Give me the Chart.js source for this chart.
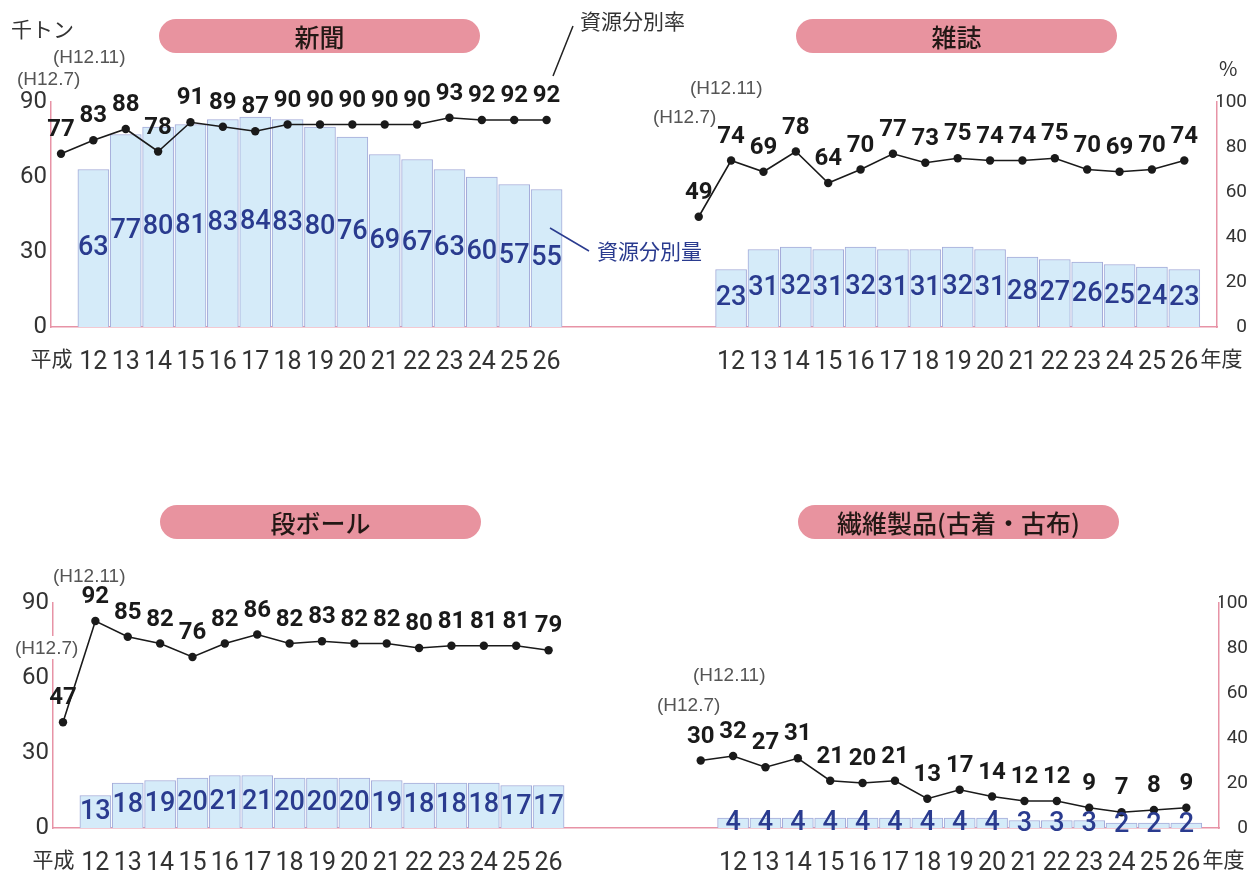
<!DOCTYPE html>
<html><head><meta charset="utf-8">
<script src="https://cdn.jsdelivr.net/npm/chart.js@4.4.0/dist/chart.umd.min.js"></script>
<style>
html,body{margin:0;padding:0;background:#fff;}
#wrap{position:relative;width:1256px;height:873px;overflow:hidden;font-family:'Noto Sans CJK JP',sans-serif;}
canvas{position:absolute;left:0;}
.pill{position:absolute;height:34px;border-radius:17px;background:#e8939f;color:#231815;font-size:25px;line-height:34px;text-align:center;font-weight:500;white-space:nowrap;}
.note{position:absolute;font-family:'Liberation Sans',sans-serif;font-size:19px;color:#555;white-space:nowrap;line-height:19px;}
.jp{position:absolute;white-space:nowrap;line-height:1;}
svg{position:absolute;left:0;top:0;}
</style></head><body>
<div id="wrap">
<canvas id="top" width="1256" height="380" style="top:0"></canvas>
<canvas id="bottom" width="1256" height="400" style="top:473px"></canvas>

<div class="pill" style="left:159px;top:19px;width:321px;">新聞</div>
<div class="pill" style="left:796px;top:19px;width:321px;">雑誌</div>
<div class="pill" style="left:160px;top:505px;width:321px;">段ボール</div>
<div class="pill" style="left:798px;top:505px;width:321px;">繊維製品(古着・古布)</div>

<div class="jp" style="left:11px;top:18px;font-size:21px;color:#333;">千トン</div>
<div class="jp" style="left:580px;top:10px;font-size:21px;color:#333;">資源分別率</div>
<div class="jp" style="left:597px;top:240px;font-size:21px;color:#2a3b8f;">資源分別量</div>
<div class="jp" style="left:1219px;top:58px;font-size:20px;color:#333;">%</div>

<div class="note" style="left:17px;top:69px;">(H12.7)</div>
<div class="note" style="left:53px;top:47px;">(H12.11)</div>
<div class="note" style="left:653px;top:107px;">(H12.7)</div>
<div class="note" style="left:690px;top:78px;">(H12.11)</div>
<div class="note" style="left:53px;top:566px;">(H12.11)</div>
<div class="note" style="left:15px;top:638px;background:#fff;padding:2px 0;margin-top:-2px;">(H12.7)</div>
<div class="note" style="left:693px;top:665px;">(H12.11)</div>
<div class="note" style="left:657px;top:695px;">(H12.7)</div>

<svg width="1256" height="873">
<line x1="573" y1="26" x2="553" y2="76" stroke="#222" stroke-width="1.5"/>
<line x1="550" y1="228" x2="589" y2="251" stroke="#2a3b8f" stroke-width="1.5"/>
</svg>
</div>
<script>
// ---- data ----
const rateLabels = ['H12.7','H12.11','13','14','15','16','17','18','19','20','21','22','23','24','25','26'];
const yearLabels = ['12','13','14','15','16','17','18','19','20','21','22','23','24','25','26'];
const eraLabel = '平成';
const unitLabel = '年度';
const amountTicks = [0, 30, 60, 90];
const rateTicks = [0, 20, 40, 60, 80, 100];

const newspaperRate   = [77,83,88,78,91,89,87,90,90,90,90,90,93,92,92,92];
const newspaperAmount = [63,77,80,81,83,84,83,80,76,69,67,63,60,57,55];
const magazineRate    = [49,74,69,78,64,70,77,73,75,74,74,75,70,69,70,74];
const magazineAmount  = [23,31,32,31,32,31,31,32,31,28,27,26,25,24,23];
const cardboardRate   = [47,92,85,82,76,82,86,82,83,82,82,80,81,81,81,79];
const cardboardAmount = [13,18,19,20,21,21,20,20,20,19,18,18,18,17,17];
const textileRate     = [30,32,27,31,21,20,21,13,17,14,12,12,9,7,8,9];
const textileAmount   = [4,4,4,4,4,4,4,4,4,3,3,3,2,2,2];

// ---- styling / layout ----
const W = 1256;
const AXIS = '#e793a6';
const FONT = "Roboto,'Noto Sans CJK JP',sans-serif";
const BAR_TXT = '#2a3b8f';
const RIGHT_SHIFT = 19.7;
const X_MIN = -0.309, X_MAX = 35.71;
const ERA_POS = -0.29, UNIT_POS = 35.85;

const valueLabels = {
  id: 'valueLabels',
  afterDatasetsDraw(chart) {
    const ctx = chart.ctx;
    chart.data.datasets.forEach((ds, i) => {
      const meta = chart.getDatasetMeta(i);
      meta.data.forEach((el, j) => {
        const v = ds.data[j].y;
        if (v == null) return;
        ctx.save();
        ctx.textAlign = 'center';
        ctx.textBaseline = 'middle';
        if (ds.type === 'bar') {
          ctx.font = "500 27px " + FONT;
          ctx.fillStyle = BAR_TXT;
          ctx.fillText(String(v), el.x, (el.y + el.base) / 2);
        } else {
          ctx.font = "bold 24px " + FONT;
          ctx.fillStyle = '#1a1a1a';
          ctx.fillText(String(v), el.x, el.y - 24);
        }
        ctx.restore();
      });
    });
  }
};

function buildRow(canvasId, H, area, left, right) {
  const barData = [];
  left.amount.forEach((v, i) => barData.push({x: i + 1, y: v}));
  right.amount.forEach((v, i) => barData.push({x: RIGHT_SHIFT + i + 1, y: v}));
  const lineL = left.rate.map((v, i) => ({x: i, y: v}));
  const lineR = right.rate.map((v, i) => ({x: RIGHT_SHIFT + i, y: v}));
  const xTickVals = [ERA_POS, ...yearLabels.map((_, i) => i + 1), ...yearLabels.map((_, i) => RIGHT_SHIFT + i + 1), UNIT_POS];
  const xTickText = [eraLabel, ...yearLabels, ...yearLabels, unitLabel];
  const lineStyle = {
    type: 'line', yAxisID: 'yR', xAxisID: 'x', order: 0,
    borderColor: '#1a1a1a', borderWidth: 1.6, pointRadius: 4.2,
    pointBackgroundColor: '#1a1a1a', pointBorderWidth: 0, tension: 0, fill: false
  };
  new Chart(document.getElementById(canvasId), {
    type: 'bar',
    data: {
      datasets: [
        Object.assign({label: '資源分別率', data: lineL}, lineStyle),
        Object.assign({label: '資源分別率', data: lineR}, lineStyle),
        {type: 'bar', label: '資源分別量', data: barData, yAxisID: 'yL', xAxisID: 'x', order: 1,
         backgroundColor: '#d5ebf9', borderColor: '#a4abd9', borderWidth: 1, barThickness: 31}
      ]
    },
    options: {
      responsive: false, animation: false, events: [],
      layout: {padding: {top: area.top, left: 0, right: area.labelGap, bottom: 0}},
      plugins: {legend: {display: false}, tooltip: {enabled: false}},
      scales: {
        x: {
          type: 'linear', min: X_MIN, max: X_MAX, offset: false,
          grid: {display: false, drawTicks: false},
          border: {display: true, color: AXIS, width: 1.5},
          afterBuildTicks: s => { s.ticks = xTickVals.map(v => ({value: v})); },
          afterFit: s => { s.height = H - area.bottom; s.paddingLeft = 0; s.paddingRight = 0; },
          ticks: {
            autoSkip: false, maxRotation: 0, minRotation: 0, padding: 21, color: '#333',
            font: c => ({family: FONT, size: (c.index === 0 || c.index === xTickText.length - 1) ? 21 : 25}),
            callback: (v, i) => xTickText[i]
          }
        },
        yL: {
          type: 'linear', position: 'left', min: 0, max: 90,
          grid: {display: false, drawTicks: false},
          border: {display: true, color: AXIS, width: 1.5},
          afterBuildTicks: s => { s.ticks = amountTicks.map(v => ({value: v})); },
          afterFit: s => { s.width = area.left; },
          ticks: {padding: 4, color: '#333', font: {family: FONT, size: 24}}
        },
        yR: {
          type: 'linear', position: 'right', min: 0, max: 100,
          grid: {display: false, drawTicks: false},
          border: {display: true, color: AXIS, width: 1.5},
          afterBuildTicks: s => { s.ticks = rateTicks.map(v => ({value: v})); },
          afterFit: s => { s.width = W - area.labelGap - area.right; },
          ticks: {padding: 0, crossAlign: 'far', color: '#333', font: {family: FONT, size: 19}}
        }
      }
    },
    plugins: [valueLabels]
  });
}

buildRow('top', 380, {left: 51, right: 1217, top: 102, bottom: 327, labelGap: 9},
  {rate: newspaperRate, amount: newspaperAmount},
  {rate: magazineRate, amount: magazineAmount});
buildRow('bottom', 400, {left: 53, right: 1219, top: 130, bottom: 355, labelGap: 8},
  {rate: cardboardRate, amount: cardboardAmount},
  {rate: textileRate, amount: textileAmount});
</script>
</body></html>
